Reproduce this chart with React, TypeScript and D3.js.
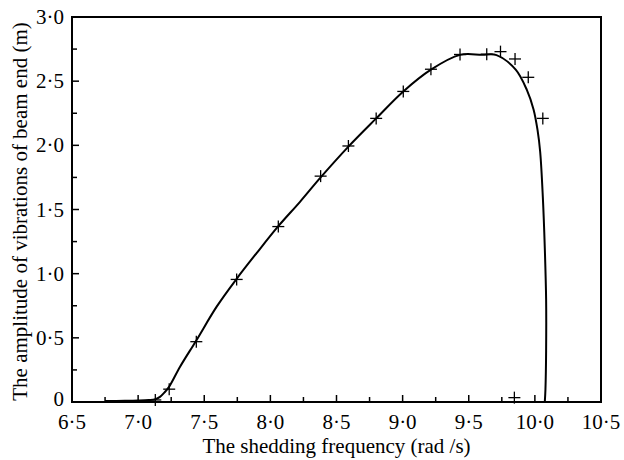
import React from "react";
import * as d3 from "d3";

const curveFreq = [6.75, 6.9, 7.0, 7.08, 7.13, 7.165, 7.2, 7.235, 7.317, 7.44, 7.594, 7.745, 7.896, 8.06, 8.224, 8.38, 8.59, 8.8, 9.005, 9.214, 9.434, 9.6, 9.71, 9.855, 9.94, 9.99, 10.02, 10.04, 10.06, 10.075, 10.085, 10.085, 10.08, 10.075];
const curveAmp = [0.008, 0.009, 0.011, 0.015, 0.022, 0.04, 0.075, 0.12, 0.275, 0.48, 0.743, 0.96, 1.16, 1.37, 1.56, 1.75, 1.99, 2.21, 2.42, 2.59, 2.705, 2.705, 2.703, 2.59, 2.43, 2.28, 2.12, 1.95, 1.6, 1.2, 0.8, 0.4, 0.1, 0.0];

const markerFreq = [7.13, 7.235, 7.44, 7.745, 8.06, 8.38, 8.59, 8.8, 9.005, 9.214, 9.434, 9.636, 9.74, 9.85, 9.95, 10.06, 9.845];
const markerAmp = [0.016, 0.1, 0.47, 0.955, 1.367, 1.76, 1.995, 2.21, 2.42, 2.593, 2.708, 2.71, 2.73, 2.673, 2.53, 2.21, 0.034];

const xTicks = [6.5, 7.0, 7.5, 8.0, 8.5, 9.0, 9.5, 10.0, 10.5];
const xTickLabels = ["6·5", "7·0", "7·5", "8·0", "8·5", "9·0", "9·5", "10·0", "10·5"];
const xMinor = [6.75, 7.25, 7.75, 8.25, 8.75, 9.25, 9.75, 10.25];
const yTicks = [0, 0.5, 1.0, 1.5, 2.0, 2.5, 3.0];
const yTickLabels = ["0", "0·5", "1·0", "1·5", "2·0", "2·5", "3·0"];
const yMinor = [0.25, 0.75, 1.25, 1.75, 2.25, 2.75];

const xTitle = "The shedding frequency (rad /s)";
const yTitle = "The amplitude of vibrations of beam end (m)";

export default function App() {
  const L = 72, R = 601, T = 17, B = 402;
  const x = d3.scaleLinear().domain([6.5, 10.5]).range([L, R]);
  const y = d3.scaleLinear().domain([0, 3]).range([B, T]);
  const pts: [number, number][] = curveFreq.map((f, i) => [f, curveAmp[i]]);
  const line = d3
    .line<[number, number]>()
    .x((d) => x(d[0]))
    .y((d) => y(d[1]))
    .curve(d3.curveCatmullRom.alpha(0.5));
  const font = "'Liberation Serif', 'Times New Roman', serif";
  const fs = 21;
  const ms = 6;
  return (
    <svg width={624} height={460} style={{ position: "absolute", left: 0, top: 0, background: "#fff" }}>
      <rect x={0} y={0} width={624} height={460} fill="#fff" />
      {/* frame */}
      <rect x={L} y={T} width={R - L} height={B - T} fill="none" stroke="#000" strokeWidth={2} />
      {/* x ticks */}
      {xTicks.map((t) => (
        <line key={"xt" + t} x1={x(t)} x2={x(t)} y1={B} y2={B - 7} stroke="#000" strokeWidth={1.5} />
      ))}
      {xMinor.map((t) => (
        <line key={"xm" + t} x1={x(t)} x2={x(t)} y1={B} y2={B - 5} stroke="#000" strokeWidth={1.5} />
      ))}
      {yTicks.map((t) => (
        <line key={"yt" + t} x1={L} x2={L + 7} y1={y(t)} y2={y(t)} stroke="#000" strokeWidth={1.5} />
      ))}
      {yMinor.map((t) => (
        <line key={"ym" + t} x1={L} x2={L + 5} y1={y(t)} y2={y(t)} stroke="#000" strokeWidth={1.5} />
      ))}
      {/* tick labels */}
      {xTicks.map((t, i) => (
        <text key={"xl" + t} x={x(t)} y={429} textAnchor="middle" fontFamily={font} fontSize={fs} fill="#000">
          {xTickLabels[i]}
        </text>
      ))}
      {yTicks.map((t, i) => (
        <text
          key={"yl" + t}
          x={L - 8}
          y={t === 0 ? y(t) + 3.5 : y(t) + 7}
          textAnchor="end"
          fontFamily={font}
          fontSize={fs}
          fill="#000"
        >
          {yTickLabels[i]}
        </text>
      ))}
      {/* titles */}
      <text x={(L + R) / 2} y={453} textAnchor="middle" fontFamily={font} fontSize={fs} fill="#000">
        {xTitle}
      </text>
      <text
        transform={`translate(27, ${(T + B) / 2 + 2}) rotate(-90)`}
        textAnchor="middle"
        fontFamily={font}
        fontSize={fs}
        fill="#000"
      >
        {yTitle}
      </text>
      {/* curve */}
      <path d={line(pts) || ""} fill="none" stroke="#000" strokeWidth={2} strokeLinejoin="round" />
      {/* markers */}
      {markerFreq.map((f, i) => (
        <g key={"m" + i} stroke="#000" strokeWidth={1.3}>
          <line x1={x(f) - ms} x2={x(f) + ms} y1={y(markerAmp[i])} y2={y(markerAmp[i])} />
          <line x1={x(f)} x2={x(f)} y1={y(markerAmp[i]) - ms} y2={y(markerAmp[i]) + ms} />
        </g>
      ))}
    </svg>
  );
}
